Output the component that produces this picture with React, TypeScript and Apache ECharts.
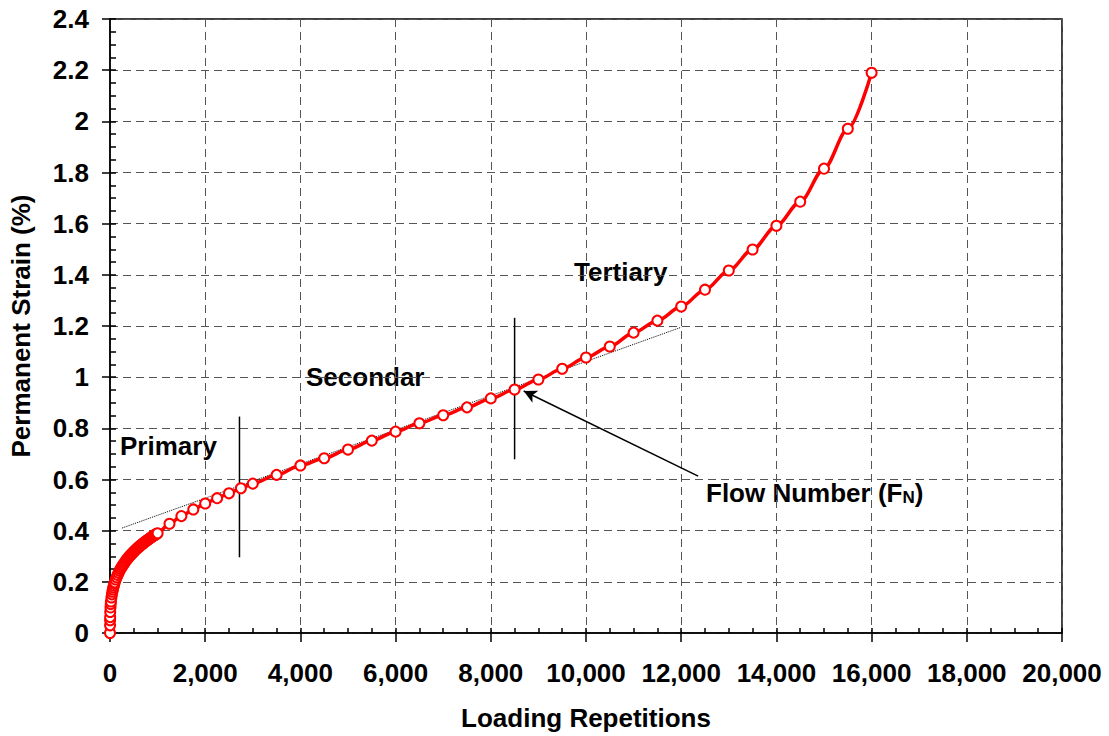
import React, { useEffect, useRef } from "react";
import * as echarts from "echarts";

// Loading repetitions (cycles) and measured permanent strain (%)
const cycles = [
  0, 1, 2, 3, 5, 10, 15, 20, 30, 40, 50, 60, 70, 80, 90, 100,
  120, 140, 160, 180, 200, 220, 240, 260, 280, 300, 320, 340, 360, 380, 400,
  420, 440, 460, 480, 500, 520, 540, 560, 580, 600, 620, 640, 660, 680, 700,
  720, 740, 760, 780, 800, 820, 840, 860, 880, 900, 920, 940, 960, 980, 1000,
  1250, 1500, 1750, 2000, 2250, 2500, 2750, 3000, 3500, 4000, 4500, 5000,
  5500, 6000, 6500, 7000, 7500, 8000, 8500, 9000, 9500, 10000, 10500, 11000,
  11500, 12000, 12500, 13000, 13500, 14000, 14500, 15000, 15500, 16000,
];
const strain = [
  0, 0.03, 0.05, 0.062, 0.082, 0.1, 0.113, 0.123, 0.139, 0.151, 0.161, 0.17, 0.178, 0.185, 0.192, 0.198,
  0.209, 0.218, 0.227, 0.235, 0.243, 0.25, 0.256, 0.262, 0.268, 0.273, 0.279, 0.284, 0.289, 0.293, 0.298,
  0.302, 0.306, 0.31, 0.314, 0.318, 0.322, 0.325, 0.329, 0.332, 0.335, 0.339, 0.342, 0.345, 0.348, 0.351,
  0.354, 0.357, 0.36, 0.362, 0.365, 0.368, 0.37, 0.373, 0.376, 0.378, 0.381, 0.383, 0.385, 0.388, 0.39,
  0.427, 0.457, 0.483, 0.506, 0.527, 0.546, 0.566, 0.584, 0.618, 0.655, 0.683, 0.717,
  0.752, 0.787, 0.82, 0.851, 0.882, 0.917, 0.952, 0.991, 1.033, 1.077, 1.12, 1.174,
  1.221, 1.276, 1.342, 1.417, 1.499, 1.592, 1.686, 1.815, 1.971, 2.19,
];

// Secondary-stage tangent line
const tangentLine = [
  [250, 0.41],
  [12000, 1.195],
];
// Stage boundaries
const primaryBoundary = [
  [2720, 0.296],
  [2720, 0.846],
];
const flowNumberBoundary = [
  [8500, 0.679],
  [8500, 1.232],
];
// Pointer to the flow number
const arrowFrom = [12356, 0.613];
const arrowTo = [8691, 0.946];

const xTicks = { min: 0, max: 20000, interval: 2000 };
const yTicks = { min: 0, max: 2.4, interval: 0.2 };

const FONT = "'Liberation Sans', Arial, sans-serif";
const FS = 26;

export default function App() {
  const ref = useRef<HTMLDivElement>(null);

  useEffect(() => {
    if (!ref.current) return;
    const chart = echarts.init(ref.current, undefined, { renderer: "svg" });

    const tickLabel = {
      fontFamily: FONT,
      fontWeight: "bold" as const,
      fontSize: FS,
      color: "#000",
    };
    const gridLine = {
      show: true,
      lineStyle: { color: "#555", width: 1, type: [8, 5] as number[] },
    };

    const option: any = {
      animation: false,
      backgroundColor: "#fff",
      grid: {
        left: 107,
        right: 47,
        top: 19,
        bottom: 102,
        show: true,
        borderColor: "#000",
        borderWidth: 1.5,
        backgroundColor: "transparent",
      },
      xAxis: [
        {
          type: "value",
          ...xTicks,
          name: "Loading Repetitions",
          nameLocation: "middle",
          nameGap: 72,
          nameTextStyle: tickLabel,
          axisLine: { show: true, onZero: false, lineStyle: { color: "#000", width: 1.5 } },
          axisTick: { show: true, inside: false, length: 9, lineStyle: { color: "#000", width: 1.5 } },
          axisLabel: {
            ...tickLabel,
            margin: 27,
            formatter: (v: number) => v.toLocaleString("en-US"),
          },
          splitLine: gridLine,
        },
        {
          type: "value",
          ...xTicks,
          position: "bottom",
          axisLine: { show: false },
          axisLabel: { show: false },
          splitLine: { show: false },
          axisTick: { show: true, inside: true, length: 5, lineStyle: { color: "#000", width: 1.5 } },
          minorTick: { show: true, splitNumber: 4, length: 5, lineStyle: { color: "#000", width: 1.5 } },
        },
      ],
      yAxis: [
        {
          type: "value",
          ...yTicks,
          name: "Permanent Strain (%)",
          nameLocation: "middle",
          nameGap: 76,
          nameTextStyle: tickLabel,
          axisLine: { show: true, onZero: false, lineStyle: { color: "#000", width: 1.5 } },
          axisTick: { show: true, inside: false, length: 8, lineStyle: { color: "#000", width: 1.5 } },
          axisLabel: { ...tickLabel, margin: 21 },
          splitLine: gridLine,
        },
        {
          type: "value",
          ...yTicks,
          position: "left",
          axisLine: { show: false },
          axisLabel: { show: false },
          splitLine: { show: false },
          axisTick: { show: true, inside: true, length: 6, lineStyle: { color: "#000", width: 1.5 } },
          minorTick: { show: true, splitNumber: 4, length: 6, lineStyle: { color: "#000", width: 1.5 } },
        },
      ],
      series: [
        {
          type: "line",
          data: tangentLine,
          symbol: "none",
          silent: true,
          lineStyle: { color: "#000", width: 1, type: "dotted" },
          z: 3,
          markLine: {
            silent: true,
            symbol: ["none", "arrow"],
            symbolSize: [10, 13],
            label: { show: false },
            lineStyle: { color: "#000", width: 1.5, type: "solid" },
            data: [[{ coord: arrowFrom }, { coord: arrowTo }]],
          },
        },
        {
          type: "line",
          data: primaryBoundary,
          symbol: "none",
          silent: true,
          lineStyle: { color: "#000", width: 1.5 },
          z: 3,
        },
        {
          type: "line",
          data: flowNumberBoundary,
          symbol: "none",
          silent: true,
          lineStyle: { color: "#000", width: 1.5 },
          z: 3,
        },
        {
          type: "line",
          data: cycles.map((c, i) => [c, strain[i]]),
          smooth: 0.3,
          smoothMonotone: "x",
          symbol: "circle",
          symbolSize: 10,
          showAllSymbol: true,
          lineStyle: { color: "#ff0000", width: 3.5 },
          itemStyle: { color: "#fff", borderColor: "#ff0000", borderWidth: 2 },
          z: 4,
        },
      ],
      graphic: [
        {
          type: "text",
          left: 120,
          top: 433,
          style: { text: "Primary", font: `bold ${FS}px ${FONT}`, fill: "#000" },
        },
        {
          type: "text",
          left: 306,
          top: 364,
          style: { text: "Secondar", font: `bold ${FS}px ${FONT}`, fill: "#000" },
        },
        {
          type: "text",
          left: 574,
          top: 259,
          style: { text: "Tertiary", font: `bold ${FS}px ${FONT}`, fill: "#000" },
        },
        {
          type: "text",
          left: 706,
          top: 480,
          style: {
            text: "{a|Flow Number (F}{b|N}{a|)}",
            rich: {
              a: { fontFamily: FONT, fontWeight: "bold", fontSize: FS, lineHeight: 28, fill: "#000", verticalAlign: "bottom" },
              b: { fontFamily: FONT, fontWeight: "bold", fontSize: 17, lineHeight: 6, fill: "#000", verticalAlign: "bottom" },
            },
          },
        },
      ],
    };

    chart.setOption(option);
    return () => chart.dispose();
  }, []);

  return (
    <div
      ref={ref}
      style={{ position: "absolute", left: 0, top: 0, width: 1109, height: 736 }}
    />
  );
}
